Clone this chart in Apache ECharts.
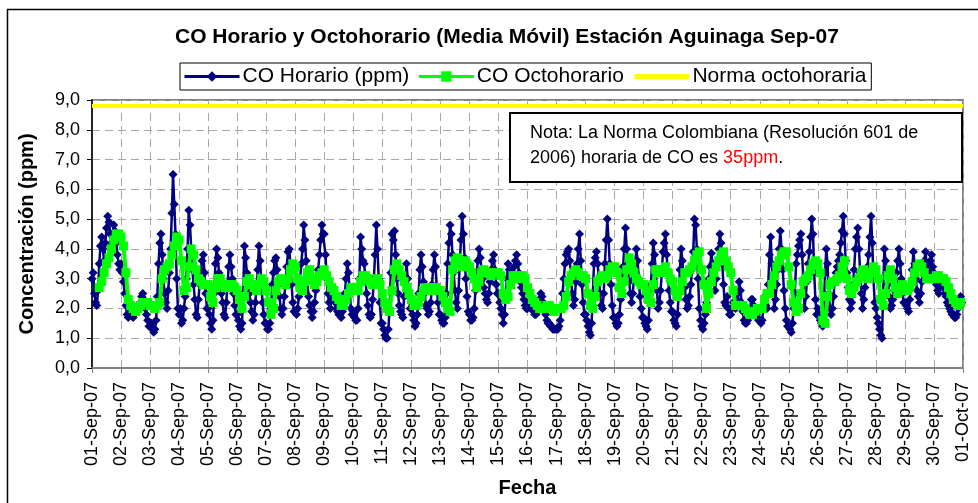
<!DOCTYPE html>
<html><head><meta charset="utf-8">
<script src="https://cdn.jsdelivr.net/npm/echarts/dist/echarts.min.js"></script>
<style>html,body{margin:0;padding:0;background:#fff}#c{width:978px;height:503px}</style>
</head><body><div id="c"></div>
<script>
// Tick labels (one per day)
const fechas = ['01-Sep-07','02-Sep-07','03-Sep-07','04-Sep-07','05-Sep-07','06-Sep-07','07-Sep-07','08-Sep-07','09-Sep-07','10-Sep-07',
  '11-Sep-07','12-Sep-07','13-Sep-07','14-Sep-07','15-Sep-07','16-Sep-07','17-Sep-07','18-Sep-07','19-Sep-07','20-Sep-07',
  '21-Sep-07','22-Sep-07','23-Sep-07','24-Sep-07','25-Sep-07','26-Sep-07','27-Sep-07','28-Sep-07','29-Sep-07','30-Sep-07','01-Oct-07'];
const yTicks = [0,1,2,3,4,5,6,7,8,9];

// CO horario (ppm), one row per day, hours 0..23
const coHorario = [
  [3.0,3.2,2.5,2.2,2.1,2.6,3.5,4.1,4.4,4.0,3.6,4.2,4.7,5.1,4.9,4.5,4.2,4.5,4.8,4.6,4.2,3.8,3.5,3.3],
  [3.5,3.2,2.9,2.5,2.1,1.8,1.7,1.8,1.9,1.8,1.7,1.8,1.9,2.0,2.1,2.0,2.2,2.4,2.5,2.3,2.0,1.8,1.6,1.4],
  [1.4,1.5,1.3,1.2,1.3,1.6,2.4,3.5,4.2,4.5,3.8,3.0,2.5,2.2,2.0,2.6,3.2,4.0,5.2,6.5,5.5,4.5,3.0,2.0],
  [1.8,2.0,1.5,1.6,2.0,2.4,3.0,4.0,5.3,4.8,4.0,3.3,2.8,2.3,1.8,1.7,2.3,2.8,3.3,3.6,3.8,3.2,2.5,2.0],
  [2.0,1.8,1.5,1.3,1.6,2.5,3.5,4.0,3.7,3.2,2.8,2.5,2.2,1.8,1.7,2.2,2.8,3.4,3.8,3.4,3.0,2.5,2.1,1.8],
  [1.8,1.6,1.4,1.3,1.5,2.5,4.1,3.7,3.2,2.8,2.5,2.2,1.9,1.6,1.8,2.2,2.7,3.3,4.1,3.6,2.8,2.2,1.8,1.5],
  [1.5,1.3,1.3,1.5,2.0,2.8,3.2,3.6,3.7,3.3,2.8,2.4,2.0,1.8,2.0,2.4,2.9,3.4,3.9,4.0,3.5,2.8,2.2,1.9],
  [1.9,1.8,2.0,2.4,3.0,3.5,4.0,4.8,4.3,3.6,2.9,2.4,2.1,1.9,1.7,1.9,2.2,2.6,3.0,3.3,3.8,4.3,4.8,4.5],
  [4.5,3.8,3.0,2.5,2.2,2.0,2.3,2.6,2.4,2.2,2.0,1.9,1.8,1.8,1.7,1.9,2.1,2.5,3.0,3.5,3.2,2.6,2.0,1.8],
  [1.9,1.7,1.6,1.6,2.0,3.0,4.4,4.0,3.6,3.5,3.0,2.5,2.1,1.8,1.7,1.8,2.3,3.0,3.8,4.8,4.0,3.0,2.2,1.5],
  [1.5,1.3,1.1,1.0,1.0,1.3,2.0,3.2,4.5,4.3,4.6,3.8,3.0,2.5,2.1,1.9,1.8,1.7,2.4,3.0,3.5,3.0,2.4,2.0],
  [2.0,1.8,1.6,1.4,1.5,1.8,2.5,3.3,3.8,3.4,2.9,2.5,2.1,2.0,1.8,1.9,2.2,2.8,3.3,3.8,3.4,2.7,2.2,1.8],
  [1.8,1.6,1.5,1.5,1.7,2.5,3.5,4.2,4.8,4.5,3.8,3.2,2.6,2.2,2.0,2.6,3.5,4.3,5.1,4.5,3.7,3.0,2.4,1.9],
  [1.8,1.6,1.6,1.7,2.0,2.6,3.2,3.6,4.0,3.7,3.3,3.0,2.7,2.5,2.3,2.2,2.5,2.9,3.3,3.6,3.8,3.3,2.8,2.5],
  [2.5,2.2,2.0,1.8,1.5,1.8,2.4,3.0,3.5,3.3,3.1,3.0,3.2,3.4,3.6,3.8,3.5,3.2,2.9,2.7,2.5,2.3,2.1,2.0],
  [2.0,2.2,2.5,2.2,2.0,1.9,1.8,1.8,1.9,2.1,2.3,2.5,2.4,2.2,2.0,1.8,1.6,1.5,1.5,1.4,1.4,1.3,1.3,1.3],
  [1.3,1.3,1.4,1.6,2.0,2.5,3.0,3.5,3.8,3.9,4.0,3.6,3.0,2.5,2.1,2.3,2.9,3.5,4.0,4.5,3.6,2.8,2.2,1.8],
  [1.8,1.6,1.4,1.2,1.1,1.5,2.5,3.5,3.7,3.9,3.5,3.0,2.5,2.1,2.0,2.5,3.5,4.3,5.0,4.3,3.5,2.8,2.1,1.7],
  [1.7,1.5,1.4,1.5,1.8,2.3,2.8,3.4,4.0,4.7,4.0,3.5,2.9,2.5,2.2,2.5,3.0,3.5,4.0,3.6,3.0,2.4,2.0,1.7],
  [1.7,1.5,1.4,1.3,1.6,2.2,2.8,3.5,4.2,3.8,3.3,2.6,2.0,2.2,2.6,3.2,3.9,4.2,4.5,3.8,3.2,2.6,2.2,1.9],
  [1.9,1.6,1.5,1.4,1.8,2.5,3.3,4.0,3.6,3.1,2.7,2.3,2.0,2.1,2.4,2.8,3.3,3.9,5.0,4.8,4.0,3.0,2.0,1.6],
  [1.4,1.3,1.5,1.8,2.2,2.6,3.0,3.4,3.85,3.5,3.0,2.6,3.0,3.5,4.0,4.5,4.2,3.5,2.8,2.2,2.1,2.4,2.0,1.8],
  [1.8,2.0,2.2,2.1,2.0,2.3,2.5,2.9,2.6,2.2,1.9,1.6,1.5,1.5,1.6,1.8,2.0,2.3,2.3,2.1,1.9,1.8,1.7,1.6],
  [1.6,1.5,1.6,2.0,2.4,2.1,2.0,2.8,3.8,4.4,3.5,2.6,2.0,2.3,2.8,3.3,4.0,4.6,4.0,3.3,2.6,2.0,1.6,1.4],
  [1.4,1.3,1.2,1.5,2.0,2.5,3.5,3.8,4.1,4.3,4.5,3.8,3.0,2.0,2.4,2.9,3.5,3.9,4.4,5.0,4.5,3.2,2.3,1.8],
  [2.0,1.8,1.6,1.5,1.4,2.0,3.2,4.0,3.5,2.5,2.0,1.8,2.0,2.4,3.0,3.2,3.4,3.6,3.8,4.2,4.6,5.1,4.5,3.6],
  [3.2,2.7,2.3,2.0,2.2,2.8,3.3,4.0,4.4,4.7,4.0,3.2,2.5,2.0,2.3,2.7,3.0,3.4,3.8,4.4,5.1,4.2,3.0,2.2],
  [2.0,1.7,1.5,1.3,1.1,1.0,2.5,4.0,3.6,3.2,2.8,2.4,2.0,2.1,2.3,2.6,2.9,3.2,3.6,4.0,3.5,3.0,2.5,2.2],
  [2.2,2.1,2.0,1.9,2.3,2.8,3.3,3.9,3.5,3.0,2.6,2.4,2.2,2.5,2.9,3.3,3.6,3.9,3.5,3.1,3.3,3.6,3.8,3.4],
  [3.2,3.0,2.8,2.6,2.5,2.8,3.0,2.9,2.7,2.5,2.4,2.2,2.1,2.0,1.9,1.8,1.8,1.7,1.7,1.8,2.0,2.2,2.4,2.2]
];

// CO octohorario (media móvil, ppm), one row per day, read every 2 hours (0,2,...,22)
const coOctohorario = [
  [null,null,null,2.7,2.9,3.2,3.5,3.7,4.0,4.3,4.5,4.5],
  [4.4,4.1,3.2,2.3,2.1,2.0,1.9,2.0,2.1,2.2,2.2,2.2],
  [2.1,2.1,2.0,2.1,2.2,3.0,3.3,3.4,3.5,3.8,4.1,4.4],
  [4.3,3.6,2.6,2.7,3.4,4.0,3.8,3.3,3.0,2.9,2.8,2.8],
  [2.8,2.4,2.2,2.7,3.0,3.0,2.8,2.7,2.7,2.8,2.8,2.7],
  [2.6,2.3,2.0,2.4,2.9,3.0,2.8,2.7,2.6,2.8,3.0,2.9],
  [2.6,2.2,1.8,2.0,2.6,2.9,3.0,2.9,2.8,3.0,3.3,3.5],
  [3.4,3.0,2.7,2.6,2.9,3.2,3.3,3.0,2.8,2.9,3.1,3.2],
  [3.3,3.1,2.9,2.7,2.6,2.4,2.3,2.1,2.1,2.3,2.5,2.7],
  [2.7,2.6,2.6,2.9,3.1,3.1,3.0,2.9,2.8,2.9,3.0,2.8],
  [2.5,2.2,2.0,1.9,2.6,3.3,3.5,3.3,3.1,2.9,2.7,2.5],
  [2.3,2.1,2.1,2.2,2.4,2.6,2.7,2.6,2.6,2.7,2.7,2.6],
  [2.6,2.4,2.2,2.0,1.9,3.3,3.6,3.7,3.6,3.4,3.6,3.5],
  [3.4,3.2,3.0,2.7,2.9,3.2,3.3,3.2,3.2,3.1,3.2,3.2],
  [3.2,3.1,2.5,2.3,2.4,2.8,3.1,3.1,3.0,3.1,3.1,3.0],
  [2.7,2.5,2.3,2.2,2.1,2.0,2.0,2.0,2.1,2.1,2.0,1.9],
  [2.0,2.0,2.0,2.1,2.4,2.9,3.1,3.2,3.3,3.2,3.1,3.1],
  [3.0,2.5,2.1,2.0,2.4,2.9,3.0,3.1,3.0,3.1,3.3,3.4],
  [3.4,3.2,2.7,2.5,2.9,3.3,3.7,3.5,3.2,3.0,2.9,2.8],
  [2.8,2.6,2.3,2.2,2.8,3.3,3.3,3.2,3.3,3.4,3.2,3.0],
  [2.9,2.6,2.4,2.6,2.9,3.2,3.2,3.3,3.4,3.6,3.8,3.9],
  [3.3,2.8,2.0,2.5,2.9,3.2,3.4,3.6,3.8,3.9,3.6,3.4],
  [3.2,2.6,2.1,2.1,2.1,2.1,2.0,1.9,1.8,1.8,1.9,2.0],
  [2.0,2.0,2.3,2.5,2.5,2.8,3.1,3.4,3.6,3.8,3.9,3.9],
  [3.4,2.8,2.2,1.9,2.0,2.5,2.9,3.0,3.1,3.3,3.5,3.6],
  [3.5,3.2,1.6,1.5,2.4,2.8,2.9,2.9,3.0,3.1,3.4,3.6],
  [3.0,2.6,2.5,2.7,2.9,3.0,3.2,3.3,3.1,3.0,3.2,3.4],
  [3.3,3.0,2.3,2.1,2.5,3.1,3.3,3.0,2.7,2.5,2.6,2.8],
  [2.7,2.6,2.7,2.9,3.2,3.4,3.5,3.4,3.2,3.0,3.0,3.0],
  [3.0,3.1,3.1,3.0,3.0,2.9,2.7,2.5,2.3,2.2,2.1,2.2]
];

const normaOctohoraria = 8.8;

const horarioData = [];
coHorario.forEach((day, d) => day.forEach((v, h) => horarioData.push([d * 24 + h, v])));
const octoData = [];
coOctohorario.forEach((day, d) => day.forEach((v, i) => { if (v !== null) octoData.push([d * 24 + i * 2, v]); }));
const totalHours = (fechas.length - 1) * 24;
const normaData = [[0, normaOctohoraria], [totalHours, normaOctohoraria]];

const FONT = '"Liberation Sans", Arial, sans-serif';
const chart = echarts.init(document.getElementById('c'), null, {renderer: 'canvas'});
chart.setOption({
  animation: false,
  backgroundColor: '#fff',
  title: {
    text: 'CO Horario y Octohorario (Media Móvil) Estación Aguinaga Sep-07',
    left: 175, top: 27, padding: 0,
    textStyle: {fontFamily: FONT, fontSize: 21, fontWeight: 'bold', color: '#000'}
  },
  legend: {
    left: 180, top: 63, padding: [3, 5, 3, 3], itemGap: 8, itemWidth: 55, itemHeight: 13,
    backgroundColor: '#fff', borderColor: '#000', borderWidth: 1,
    textStyle: {fontFamily: FONT, fontSize: 21, color: '#000', padding: [0, 0, 0, -2]},
    data: [
      {name: 'CO Horario (ppm)', lineStyle: {width: 3}},
      {name: 'CO Octohorario', lineStyle: {width: 3}},
      {name: 'Norma octohoraria', itemStyle: {opacity: 0}, lineStyle: {width: 5}}
    ]
  },
  grid: {left: 92, right: 15, top: 100, bottom: 135, show: true, borderColor: '#808080', borderWidth: 2, backgroundColor: '#fff'},
  xAxis: {
    type: 'value', min: 0, max: totalHours, interval: 24,
    name: 'Fecha', nameLocation: 'middle', nameGap: 110,
    nameTextStyle: {fontFamily: FONT, fontSize: 20, fontWeight: 'bold', color: '#000'},
    axisLine: {show: true, lineStyle: {color: '#808080', width: 2}},
    axisTick: {show: true, length: 5, lineStyle: {color: '#808080'}},
    axisLabel: {rotate: 90, margin: 14, fontFamily: FONT, fontSize: 18, color: '#000',
      showMinLabel: true, showMaxLabel: true,
      formatter: v => fechas[Math.round(v / 24)] || ''},
    splitLine: {show: true, lineStyle: {color: '#a8a8a8', type: [8, 5], width: 1}}
  },
  yAxis: {
    type: 'value', min: yTicks[0], max: yTicks[yTicks.length - 1], interval: 1,
    name: 'Concentración (ppm)', nameLocation: 'middle', nameGap: 55,
    nameTextStyle: {fontFamily: FONT, fontSize: 20, fontWeight: 'bold', color: '#000'},
    axisLine: {show: true, lineStyle: {color: '#000', width: 1.5}},
    axisTick: {show: true, length: 5, lineStyle: {color: '#000'}},
    axisLabel: {margin: 12, fontFamily: FONT, fontSize: 18, color: '#000',
      formatter: v => v.toFixed(1).replace('.', ',')},
    splitLine: {show: true, lineStyle: {color: '#a8a8a8', type: [8, 5], width: 1}}
  },
  series: [
    {name: 'CO Horario (ppm)', type: 'line', data: horarioData, symbol: 'diamond', symbolSize: 9,
      itemStyle: {color: '#000080'}, lineStyle: {color: '#000080', width: 2.5}, z: 2, silent: true},
    {name: 'CO Octohorario', type: 'line', data: octoData, symbol: 'rect', symbolSize: 9,
      itemStyle: {color: '#00ff00'}, lineStyle: {color: '#00ff00', width: 4}, z: 3, silent: true},
    {name: 'Norma octohoraria', type: 'line', data: normaData, symbol: 'none',
      itemStyle: {color: '#ffff00'}, lineStyle: {color: '#ffff00', width: 4}, z: 4, silent: true}
  ],
  graphic: [
    {type: 'rect', shape: {x: 7.5, y: 9.5, width: 1100, height: 700}, style: {fill: 'none', stroke: '#000', lineWidth: 1.5}, z: 100, silent: true},
    {type: 'rect', shape: {x: 510, y: 113, width: 452, height: 69}, style: {fill: '#fff', stroke: '#000', lineWidth: 2}, z: 100, silent: true},
    {type: 'text', x: 530, y: 121, z: 101, silent: true,
      style: {text: 'Nota: La Norma Colombiana (Resolución 601 de\n2006) horaria de CO es {r|35ppm}.',
        font: '18px ' + FONT, fill: '#000', lineHeight: 25,
        rich: {r: {fill: '#ff0000', fontSize: 18, fontFamily: FONT, lineHeight: 25}}}}
  ]
});
</script></body></html>
